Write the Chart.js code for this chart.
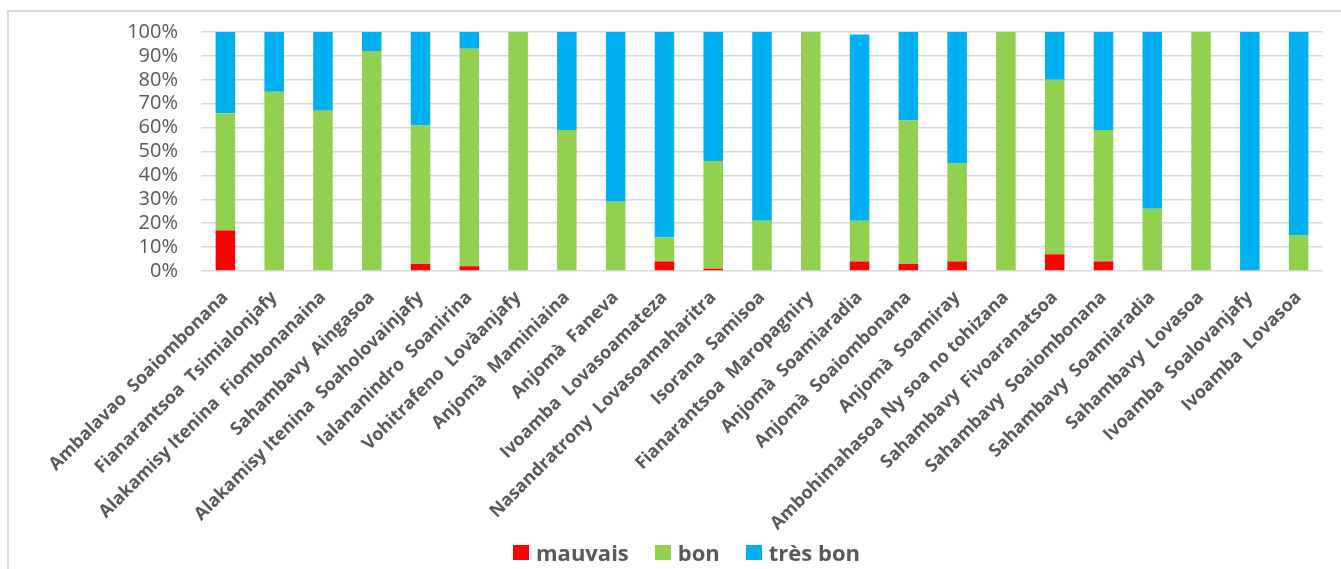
<!DOCTYPE html>
<html>
<head>
<meta charset="utf-8">
<script src="https://cdn.jsdelivr.net/npm/chart.js@4/dist/chart.umd.min.js"></script>
<style>
  html, body { margin: 0; padding: 0; background: #fff; overflow: hidden; }
  #wrap { position: relative; width: 1341px; height: 569px; }
  #frame {
    position: absolute; left: 7px; top: 10px; right: -20px; bottom: -20px;
    border-left: 2px solid #d9d9d9; border-top: 2px solid #d9d9d9;
    pointer-events: none;
  }
  #legend {
    position: absolute; left: 0; width: 1373px; top: 537px; height: 30px;
    display: flex; justify-content: center; align-items: center; gap: 26px;
    font: bold 22px 'Open Sans', sans-serif; color: #595959;
  }
  #legend span.item { display: flex; align-items: center; white-space: nowrap; }
  #legend span.box { display: inline-block; width: 16px; height: 15px; margin-right: 7px; }
</style>
</head>
<body>
<div id="wrap">
  <canvas id="chart" width="1341" height="569"></canvas>
  <div id="legend"></div>
  <div id="frame"></div>
</div>
<script>
const categories = [
    'Ambalavao  Soaiombonana',
    'Fianarantsoa  Tsimialonjafy',
    'Alakamisy Itenina  Fiombonanaina',
    'Sahambavy  Aingasoa',
    'Alakamisy Itenina  Soaholovainjafy',
    'Ialananindro  Soanirina',
    'Vohitrafeno  Lovàanjafy',
    'Anjomà  Maminiaina',
    'Anjomà  Faneva',
    'Ivoamba  Lovasoamateza',
    'Nasandratrony  Lovasoamaharitra',
    'Isorana  Samisoa',
    'Fianarantsoa  Maropagniry',
    'Anjomà  Soamiaradia',
    'Anjomà  Soaiombonana',
    'Anjomà  Soamiray',
    'Ambohimahasoa Ny soa no tohizana',
    'Sahambavy  Fivoaranatsoa',
    'Sahambavy  Soaiombonana',
    'Sahambavy  Soamiaradia',
    'Sahambavy  Lovasoa',
    'Ivoamba  Soalovanjafy',
    'Ivoamba  Lovasoa'
];

const mauvais = [17, 0, 0, 0, 3, 2, 0, 0, 0, 4, 1, 0, 0, 4, 3, 4, 0, 7, 4, 0, 0, 0, 0];
const bon     = [49, 75, 67, 92, 58, 91, 100, 59, 29, 10, 45, 21, 100, 17, 60, 41, 100, 73, 55, 26, 100, 0, 15];
const tresBon = [34, 25, 33, 8, 39, 7, 0, 41, 71, 86, 54, 79, 0, 78, 37, 55, 0, 20, 41, 74, 0, 100, 85];

const yTicks = [0, 10, 20, 30, 40, 50, 60, 70, 80, 90, 100];

const textColor = '#595959';

const chart = new Chart(document.getElementById('chart'), {
    type: 'bar',
    data: {
        labels: categories,
        datasets: [
            { label: 'mauvais', data: mauvais, backgroundColor: '#ff0000' },
            { label: 'bon', data: bon, backgroundColor: '#92d050' },
            { label: 'très bon', data: tresBon, backgroundColor: '#00b0f0' }
        ]
    },
    options: {
        responsive: false,
        animation: false,
        events: [],
        categoryPercentage: 1,
        barPercentage: 0.4,
        layout: { padding: { left: 50, right: 18, top: 32, bottom: 0 } },
        plugins: {
            tooltip: { enabled: false },
            legend: { display: false }
        },
        scales: {
            x: {
                stacked: true,
                grid: { display: false },
                border: { display: false },
                ticks: {
                    color: textColor,
                    font: { family: 'Open Sans', size: 18, weight: 'bold' },
                    minRotation: 45,
                    maxRotation: 45,
                    autoSkip: false,
                    padding: 8
                },
                // long names run down to the legend, so the axis takes the whole bottom band
                afterFit: scale => { scale.height = 298; }
            },
            y: {
                stacked: true,
                min: 0,
                max: 100,
                afterBuildTicks: scale => { scale.ticks = yTicks.map(v => ({ value: v })); },
                // invisible tick marks keep the labels clear of the plot
                grid: { color: '#d9d9d9', lineWidth: 1.5, tickLength: 20, tickColor: 'rgba(0,0,0,0)' },
                border: { display: false },
                ticks: {
                    color: textColor,
                    font: { family: 'Open Sans', size: 20 },
                    padding: 3,
                    autoSkip: false,
                    callback: v => v + '%'
                },
                afterFit: scale => { scale.width = 151; }
            }
        }
    }
});

// legend row built from the datasets
const legend = document.getElementById('legend');
chart.data.datasets.forEach(ds => {
    const item = document.createElement('span');
    item.className = 'item';
    item.innerHTML = `<span class="box" style="background:${ds.backgroundColor}"></span>${ds.label}`;
    legend.appendChild(item);
});
</script>
</body>
</html>
